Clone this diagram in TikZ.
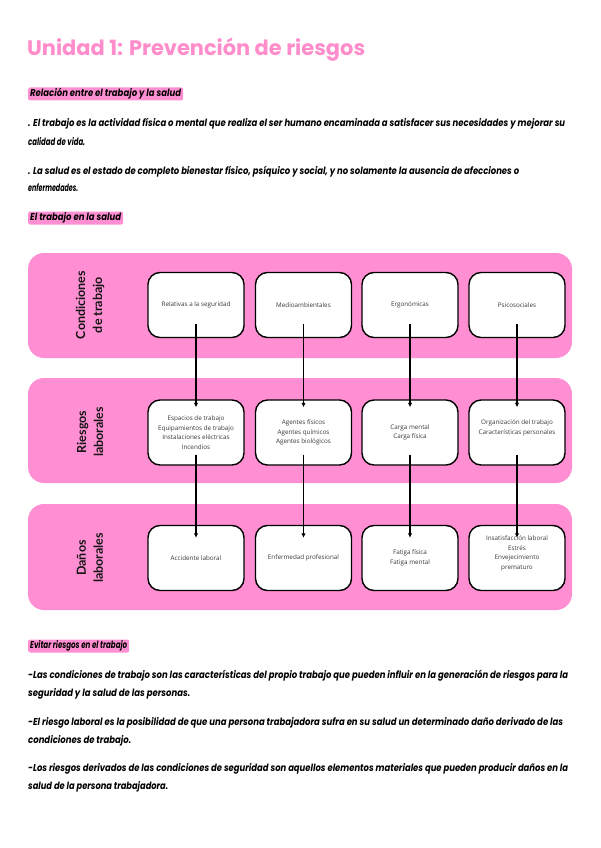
\documentclass[tikz,border=0pt]{standalone}
\usepackage{fontspec}
\usepackage{graphicx}
\usetikzlibrary{arrows.meta,calc}
\newfontfamily\bodyfont{Poppins}
\newfontfamily\sidefont{Lato}
\newfontfamily\boxfont{Open Sans}
\definecolor{pk}{HTML}{FF8FD2}
\definecolor{tpk}{HTML}{FF8CCB}
\newlength\fitlen
\newcommand\fitx[2]{\settowidth\fitlen{#2}\scalebox{\fpeval{(#1)/(\the\fitlen)}}[1]{#2}}
\tikzset{
  body/.style={anchor=base west, inner sep=0pt, font=\bodyfont\bfseries\itshape\fontsize{10}{12}\selectfont},
  hl/.style={anchor=base west, fill=pk, rounded corners=2pt, inner xsep=2pt, inner ysep=2pt,
    text height=7pt, text depth=2pt, font=\bodyfont\bfseries\itshape\fontsize{10}{12}\selectfont},
  band/.style={fill=pk, rounded corners=16pt, minimum width=544pt, inner sep=0pt},
  cbox/.style={draw=black, fill=white, line width=1.4pt, rounded corners=12pt, minimum width=96pt,
    minimum height=65pt, align=center, inner sep=1pt, text=black!78,
    font=\boxfont\fontsize{6.3}{9.6}\selectfont},
  side/.style={rotate=90, align=center, text=black!92, font=\sidefont\bfseries\fontsize{12.5}{17}\selectfont},
  conn/.style={line width=1.4pt, -{Latex[length=4.5pt,width=4.5pt]}}
}
\begin{document}
\begin{tikzpicture}[x=1pt,y=-1pt]
\useasboundingbox (0,0) rectangle (600,848);
\fill[white] (0,0) rectangle (600,848);

% title
\node[anchor=base west, inner sep=0pt, text=tpk, font=\bodyfont\fontsize{21}{24}\selectfont] (title) at (27,56) {\fitx{338pt}{\textbf{Unidad 1: Prevención de riesgos}}};

\node[hl] (h1) at (28,96.5) {\fitx{151pt}{Relación entre el trabajo y la salud}};
\node[body] (p1a) at (28,127) {\fitx{537pt}{. El trabajo es la actividad física o mental que realiza el ser humano encaminada a satisfacer sus necesidades y mejorar su}};
\node[body] (p1b) at (28,145) {\fitx{57pt}{calidad de vida.}};
\node[body] (p2a) at (28,174) {\fitx{491pt}{. La salud es el estado de completo bienestar físico, psíquico y social, y no solamente la ausencia de afecciones o}};
\node[body] (p2b) at (28,191) {\fitx{50pt}{enfermedades.}};
\node[hl] (h2) at (28,220.5) {\fitx{91pt}{El trabajo en la salud}};

% bands
\node[band, minimum height=105pt] (b1) at (300,305.5) {};
\node[band, minimum height=105pt] (b2) at (300,430.5) {};
\node[band, minimum height=106pt] (b3) at (300,557) {};

\node[side] (l1) at (90,305) {Condiciones\\de trabajo};
\node[side] (l2) at (90,432) {Riesgos\\laborales};
\node[side] (l3) at (90,558) {Daños\\laborales};

% row 1
\node[cbox] (c1) at (196,305) {Relativas a la seguridad};
\node[cbox] (c2) at (303.5,305) {Medioambientales};
\node[cbox] (c3) at (410,305) {Ergonómicas};
\node[cbox] (c4) at (517,305) {Psicosociales};
% row 2
\node[cbox] (r1) at (196,432.5) {Espacios de trabajo\\Equipamientos de trabajo\\Instalaciones eléctricas\\Incendios};
\node[cbox] (r2) at (303.5,432.5) {Agentes físicos\\Agentes químicos\\Agentes biológicos};
\node[cbox] (r3) at (410,432.5) {Carga mental\\Carga física};
\node[cbox] (r4) at (517,432.5) {Organización del trabajo\\Características personales\\[1pt]\mbox{}};
% row 3
\node[cbox] (d1) at (196,558) {Accidente laboral};
\node[cbox] (d2) at (303.5,558) {Enfermedad profesional};
\node[cbox] (d3) at (410,558) {Fatiga física\\Fatiga mental};
\node[cbox] (d4) at (517,558) {Insatisfacción laboral\\Estrés\\Envejecimiento\\prematuro\\[1pt]\mbox{}};

\foreach \i in {1,2,3,4}{
  \draw[conn] ($(c\i.south)+(0pt,14pt)$) -- ($(r\i.north)+(0pt,-8pt)$);
  \draw[conn] ($(r\i.south)+(0pt,11pt)$) -- ($(d\i.north)+(0pt,-13pt)$);
}

\node[hl] (h3) at (28,648.5) {\fitx{97pt}{Evitar riesgos en el trabajo}};
\node[body] (q1a) at (28,678) {\fitx{540pt}{-Las condiciones de trabajo son las características del propio trabajo que pueden influir en la generación de riesgos para la}};
\node[body] (q1b) at (28,696) {\fitx{162pt}{seguridad y la salud de las personas.}};
\node[body] (q2a) at (28,725) {\fitx{535pt}{-El riesgo laboral es la posibilidad de que una persona trabajadora sufra en su salud un determinado daño derivado de las}};
\node[body] (q2b) at (28,743) {\fitx{103pt}{condiciones de trabajo.}};
\node[body] (q3a) at (28,771) {\fitx{540pt}{-Los riesgos derivados de las condiciones de seguridad son aquellos elementos materiales que pueden producir daños en la}};
\node[body] (q3b) at (28,789) {\fitx{140pt}{salud de la persona trabajadora.}};
\end{tikzpicture}
\end{document}
